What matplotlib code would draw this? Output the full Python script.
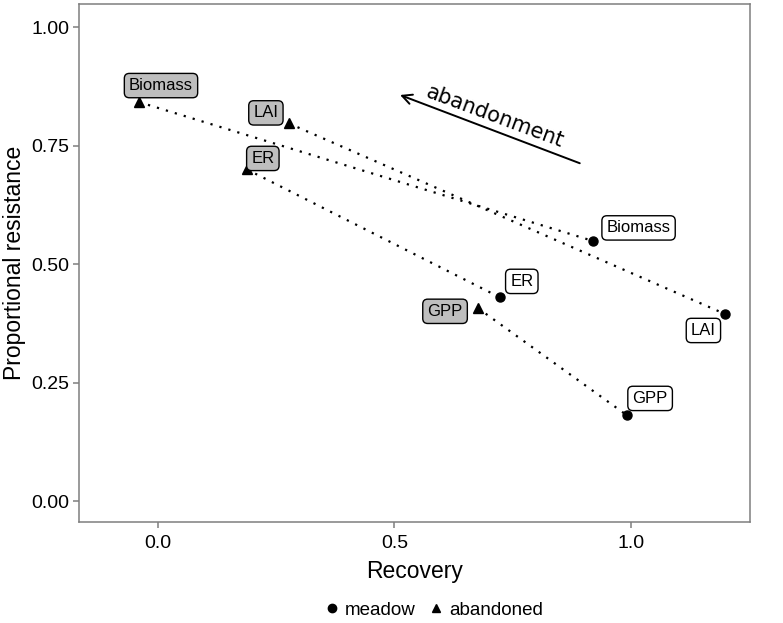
import matplotlib
matplotlib.use("Agg")
import matplotlib.pyplot as plt
from matplotlib.lines import Line2D

variables = ["Biomass", "LAI", "ER", "GPP"]
recovery_abandoned = [-0.040, 0.277, 0.188, 0.677]
resistance_abandoned = [0.842, 0.797, 0.700, 0.407]
recovery_meadow = [0.920, 1.199, 0.723, 0.992]
resistance_meadow = [0.549, 0.395, 0.430, 0.181]

# label offsets (points) relative to the point
off_abandoned = [(15.8, 11.9), (-16.6, 7.6), (11.5, 7.9), (-23.8, -2.2)]
off_meadow = [(32.8, 9.4), (-15.5, -11.9), (15.8, 11.5), (16.6, 12.2)]

yticks = [0.00, 0.25, 0.50, 0.75, 1.00]
xticks = [0.0, 0.5, 1.0]

plt.rcParams['font.family'] = ['Liberation Sans', 'DejaVu Sans']

fig = plt.figure(figsize=(7.83, 6.23), dpi=100)
ax = fig.add_axes([79/783, 1-522/623, (750-79)/783, (522-4)/623])

for i in range(len(variables)):
    ax.plot([recovery_abandoned[i], recovery_meadow[i]],
            [resistance_abandoned[i], resistance_meadow[i]],
            color='black', lw=1.6, linestyle=(0, (1, 3.2)), zorder=2)

ax.plot(recovery_meadow, resistance_meadow, 'o', color='black', ms=6.5, zorder=3, linestyle='none')
ax.plot(recovery_abandoned, resistance_abandoned, '^', color='black', ms=6.5, zorder=3, linestyle='none')

for i, v in enumerate(variables):
    ax.annotate(v, (recovery_abandoned[i], resistance_abandoned[i]),
                xytext=off_abandoned[i], textcoords='offset points',
                ha='center', va='center', fontsize=12, zorder=4,
                bbox=dict(boxstyle='round,pad=0.28,rounding_size=0.3', fc='#BEBEBE', ec='black', lw=1.0))
    ax.annotate(v, (recovery_meadow[i], resistance_meadow[i]),
                xytext=off_meadow[i], textcoords='offset points',
                ha='center', va='center', fontsize=12, zorder=4,
                bbox=dict(boxstyle='round,pad=0.28,rounding_size=0.3', fc='white', ec='black', lw=1.0))

# abandonment arrow
ax.annotate('', xy=(0.512, 0.857), xytext=(0.892, 0.713),
            arrowprops=dict(arrowstyle='->,head_length=0.7,head_width=0.35', lw=1.4, color='black',
                            shrinkA=0, shrinkB=0))
ax.text(0.712, 0.812, 'abandonment', rotation=-20.4, rotation_mode='anchor',
        ha='center', va='center', fontsize=15, family='DejaVu Sans')

ax.set_xlim(-0.167, 1.252)
ax.set_ylim(-0.044, 1.049)
ax.set_xticks(xticks)
ax.set_xticklabels(['%.1f' % t for t in xticks])
ax.set_yticks(yticks)
ax.set_yticklabels(['%.2f' % t for t in yticks])

for s in ax.spines.values():
    s.set_color('#7F7F7F')
    s.set_linewidth(1.1)
ax.tick_params(axis='both', colors='#7F7F7F', length=4, width=1.1, labelcolor='black', labelsize=14)
ax.tick_params(axis='x', pad=5)
ax.tick_params(axis='y', pad=3)

ax.set_xlabel('Recovery', fontsize=16.5, labelpad=6)
ax.set_ylabel('Proportional resistance', fontsize=16.5, labelpad=4)

handles = [Line2D([], [], marker='o', color='black', linestyle='none', ms=6),
           Line2D([], [], marker='^', color='black', linestyle='none', ms=6)]
fig.legend(handles, ['meadow', 'abandoned'], loc='center', ncol=2,
           bbox_to_anchor=(433/783, 1-610/623), frameon=False, fontsize=13.5,
           handletextpad=0.2, columnspacing=0.6, handlelength=1.0)

fig.savefig('out.png', dpi=100)
